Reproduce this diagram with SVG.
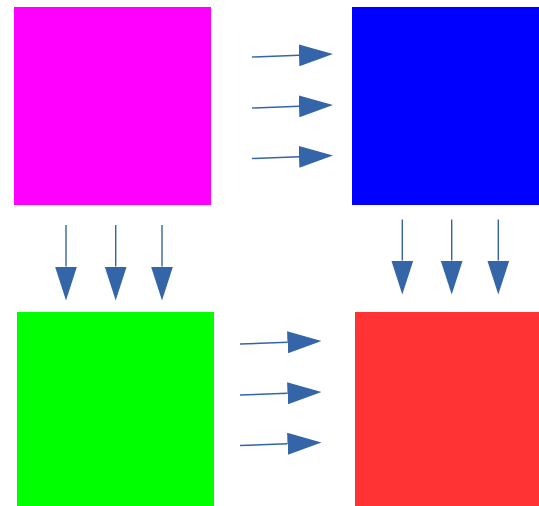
<svg xmlns="http://www.w3.org/2000/svg" width="539" height="506" viewBox="0 0 539 506">
<style>
.c{stroke:#3465a8;stroke-width:1.4;fill:none;marker-end:url(#ah)}
</style>
<defs>
<marker id="ah" markerUnits="userSpaceOnUse" markerWidth="34" markerHeight="22" refX="0" refY="11" orient="auto" viewBox="0 0 34 22">
<path d="M0,0 L34,11 L0,22 Z" fill="#3465a8"/>
</marker>
</defs>
<rect width="539" height="506" fill="#ffffff"/>
<g id="magenta"><rect x="14" y="7" width="197" height="198" fill="#ff00ff"/></g>
<g id="blue"><rect x="352" y="7" width="187" height="198" fill="#0000ff"/></g>
<g id="green"><rect x="17" y="312" width="197" height="194" fill="#00ff00"/></g>
<g id="red"><rect x="355" y="312" width="184" height="194" fill="#ff3333"/></g>
<g id="connectors">
<line class="c" x1="252" y1="57" x2="299" y2="55.3"/>
<line class="c" x1="252" y1="108" x2="299" y2="106.3"/>
<line class="c" x1="252" y1="158.5" x2="299" y2="156.8"/>
<line class="c" x1="240" y1="344" x2="287.5" y2="342.3"/>
<line class="c" x1="240" y1="395" x2="287.5" y2="393.3"/>
<line class="c" x1="240" y1="445.5" x2="287.5" y2="443.8"/>
<line class="c" x1="66" y1="225" x2="66" y2="266.5"/>
<line class="c" x1="115.7" y1="225" x2="115.7" y2="266.5"/>
<line class="c" x1="162" y1="225" x2="162" y2="266.5"/>
<line class="c" x1="402.3" y1="219.5" x2="402.3" y2="260.5"/>
<line class="c" x1="451.7" y1="219.5" x2="451.7" y2="260.5"/>
<line class="c" x1="498.3" y1="219.5" x2="498.3" y2="260.5"/>
</g>
</svg>
